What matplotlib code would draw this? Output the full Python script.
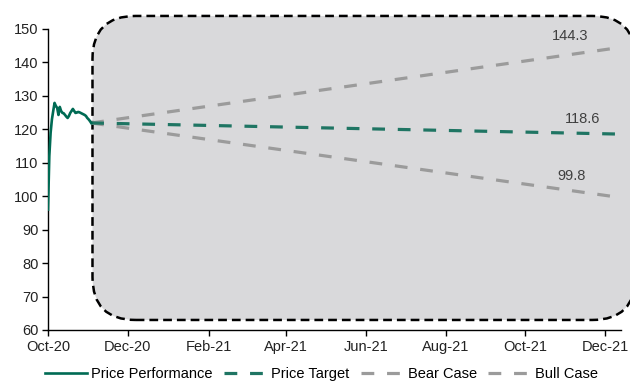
import pandas as pd
import matplotlib
matplotlib.use("Agg")
import matplotlib.pyplot as plt
import matplotlib.dates as mdates
from matplotlib.patches import FancyBboxPatch

plt.rcParams['font.family'] = ['Liberation Sans', 'DejaVu Sans']

## DATA
# daily price, 1 Oct 2020 -> 3 Nov 2020
price_dates = pd.date_range("2020-10-01", periods=34, freq="D")
price = [96.0, 112.0, 119.0, 123.0, 125.5, 127.9, 127.0, 126.4, 124.3, 126.7,
         125.5, 124.9, 124.8, 124.3, 123.8, 123.4, 124.0, 124.9, 125.5, 126.1,
         125.5, 124.9, 125.0, 125.2, 125.1, 124.9, 124.7, 124.5, 124.3, 124.0,
         123.4, 123.0, 122.5, 121.9]

# projections: from last price to end of Dec 2021
proj_dates = [pd.Timestamp("2020-11-03"), pd.Timestamp("2021-12-09")]
target_end = 118.6
bear_end = 99.8
bull_end = 144.3

# shaded forecast box (data coords)
box_dates = [pd.Timestamp("2020-11-04"), pd.Timestamp("2021-12-24")]
box_values = [63.0, 153.9]

GREEN = "#006b54"
GREEN_DASH = "#1f7563"
GRAY = "#9b9b9b"
FS = 10.5

fig = plt.figure(figsize=(6.3, 3.83), dpi=100)
ax = fig.add_axes([0.0762, 0.1384, 0.9095, 0.7859])

# forecast box
x0 = mdates.date2num(box_dates[0])
x1 = mdates.date2num(box_dates[1])
radius_days = 33
box = FancyBboxPatch((x0, box_values[0]), x1 - x0, box_values[1] - box_values[0],
                     boxstyle="round,pad=0,rounding_size=%f" % radius_days,
                     mutation_aspect=0.39,
                     facecolor="#d9d9db", edgecolor="black", lw=1.8,
                     linestyle=(0, (3.5, 2)), clip_on=False, zorder=1)
ax.add_patch(box)

start = price[-1]
ax.plot(price_dates, price, color=GREEN, lw=1.9, zorder=6,
        label="Price Performance")
ax.plot(proj_dates, [start, target_end], color=GREEN_DASH, lw=2.3,
        dashes=(4, 4), zorder=3, label="Price Target")
ax.plot(proj_dates, [start, bear_end], color=GRAY, lw=2.3,
        dashes=(4, 4), zorder=2, label="Bear Case")
ax.plot(proj_dates, [start, bull_end], color=GRAY, lw=2.3,
        dashes=(4, 4), zorder=2, label="Bull Case")

# end labels
for val, off in [(bull_end, (-33, 9)), (target_end, (-24, 11)),
                 (bear_end, (-32, 15))]:
    ax.annotate("%.1f" % val, xy=(proj_dates[1], val), xytext=off,
                textcoords="offset points", ha="center", va="center",
                fontsize=FS, color="#404040", zorder=4)

ax.set_ylim(60, 150)
ax.set_yticks(range(60, 151, 10))
ax.set_xlim(pd.Timestamp("2020-10-01"), pd.Timestamp("2021-12-13"))
ax.xaxis.set_major_locator(mdates.MonthLocator(bymonth=[2, 4, 6, 8, 10, 12]))
ax.xaxis.set_major_formatter(mdates.DateFormatter("%b-%y"))

for s in ["top", "right"]:
    ax.spines[s].set_visible(False)
for s in ["left", "bottom"]:
    ax.spines[s].set_linewidth(1.0)
    ax.spines[s].set_zorder(5)
ax.tick_params(axis="both", direction="out", length=4, width=1,
               labelsize=FS, labelcolor="#222222", pad=3)
ax.set_facecolor("none")

fig.legend(loc="lower center", bbox_to_anchor=(0.51, -0.018), ncol=4,
           frameon=False, fontsize=FS, handlelength=2.9, handletextpad=0.3,
           columnspacing=0.8, borderpad=0.1)

fig.savefig("out.png", dpi=100)
